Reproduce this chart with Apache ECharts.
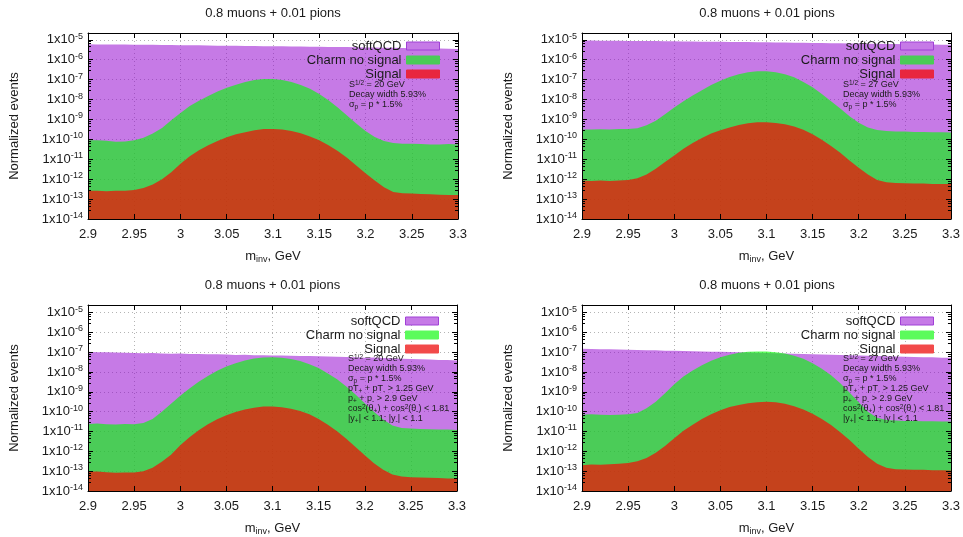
<!DOCTYPE html>
<html><head><meta charset="utf-8">
<script src="https://cdn.jsdelivr.net/npm/echarts@6/dist/echarts.min.js"></script>
<style>html,body{margin:0;padding:0;background:#fff}#c{width:963px;height:537px}</style>
</head><body><div id="c"></div>
<script>
// ---------------- data ----------------
const masses = [2.90,2.91,2.92,2.93,2.94,2.95,2.96,2.97,2.98,2.99,
  3.00,3.01,3.02,3.03,3.04,3.05,3.06,3.07,3.08,3.09,
  3.10,3.11,3.12,3.13,3.14,3.15,3.16,3.17,3.18,3.19,
  3.20,3.21,3.22,3.23,3.24,3.25,3.26,3.27,3.28,3.29,3.30];

const seriesNames = ['softQCD', 'Charm no signal', 'Signal'];
const panelTitle = '0.8 muons + 0.01 pions';
const xTickLabels = ['2.9','2.95','3','3.05','3.1','3.15','3.2','3.25','3.3'];

// Panel 1: S^1/2 = 20 GeV, no cuts
const p1Soft = [6.0e-6,5.9e-6,5.9e-6,5.8e-6,5.8e-6,5.7e-6,5.6e-6,5.6e-6,5.5e-6,5.5e-6,
  5.4e-6,5.3e-6,5.3e-6,5.2e-6,5.1e-6,5.1e-6,5.0e-6,4.9e-6,4.9e-6,4.8e-6,
  4.8e-6,4.7e-6,4.6e-6,4.6e-6,4.5e-6,4.5e-6,4.4e-6,4.3e-6,4.3e-6,4.2e-6,
  4.1e-6,4.1e-6,4.0e-6,4.0e-6,3.9e-6,3.8e-6,3.8e-6,3.7e-6,3.7e-6,3.6e-6,3.5e-6];
const p1Charm = [8.9e-11,8.9e-11,8.5e-11,7.6e-11,7.9e-11,8.9e-11,1.2e-10,1.95e-10,3.7e-10,9.1e-10,
  2.1e-9,4.7e-9,8.7e-9,1.5e-8,2.5e-8,3.9e-8,5.5e-8,7.6e-8,9.5e-8,1.07e-7,
  1.07e-7,9.5e-8,7.6e-8,5.4e-8,3.5e-8,1.9e-8,9.3e-9,4.0e-9,1.6e-9,6.2e-10,
  2.6e-10,1.3e-10,8.3e-11,6.5e-11,6.0e-11,6.0e-11,5.8e-11,5.6e-11,5.6e-11,5.8e-11,5.6e-11];
const p1Signal = [2.65e-13,2.6e-13,2.5e-13,2.65e-13,2.65e-13,2.9e-13,3.6e-13,5.4e-13,1.0e-12,2.2e-12,
  5.9e-12,1.4e-11,2.8e-11,5.0e-11,8.3e-11,1.26e-10,1.8e-10,2.3e-10,2.85e-10,3.3e-10,
  3.3e-10,3.1e-10,2.6e-10,2.0e-10,1.4e-10,8.9e-11,5.0e-11,2.6e-11,1.2e-11,4.9e-12,
  2.0e-12,8.5e-13,3.9e-13,2.3e-13,1.95e-13,1.9e-13,1.8e-13,1.74e-13,1.66e-13,1.6e-13,1.6e-13];

// Panel 2: S^1/2 = 27 GeV, no cuts
const p2Soft = [9.3e-6,9.2e-6,9.1e-6,9.0e-6,8.9e-6,8.8e-6,8.8e-6,8.7e-6,8.6e-6,8.5e-6,
  8.4e-6,8.3e-6,8.2e-6,8.1e-6,8.0e-6,7.9e-6,7.8e-6,7.8e-6,7.7e-6,7.6e-6,
  7.5e-6,7.4e-6,7.3e-6,7.2e-6,7.1e-6,7.0e-6,6.9e-6,6.8e-6,6.7e-6,6.6e-6,
  6.5e-6,6.4e-6,6.3e-6,6.2e-6,6.1e-6,6.0e-6,5.9e-6,5.8e-6,5.8e-6,5.7e-6,5.6e-6];
const p2Charm = [3.1e-10,3.1e-10,3.2e-10,3.1e-10,3.3e-10,3.3e-10,3.6e-10,5.1e-10,8.5e-10,1.8e-9,
  4.0e-9,8.3e-9,1.6e-8,2.95e-8,5.4e-8,8.9e-8,1.35e-7,1.85e-7,2.35e-7,2.6e-7,
  2.6e-7,2.35e-7,1.85e-7,1.3e-7,7.6e-8,4.1e-8,1.9e-8,8.3e-9,3.5e-9,1.45e-9,
  6.9e-10,4.0e-10,2.95e-10,2.6e-10,2.5e-10,2.45e-10,2.35e-10,2.35e-10,2.25e-10,2.25e-10,2.2e-10];
const p2Signal = [8.5e-13,8.2e-13,8.5e-13,8.2e-13,8.5e-13,9.1e-13,1.1e-12,1.7e-12,3.3e-12,7.2e-12,
  1.55e-11,3.4e-11,6.5e-11,1.17e-10,1.95e-10,2.85e-10,4.0e-10,5.3e-10,6.4e-10,7.2e-10,
  7.2e-10,6.7e-10,5.7e-10,4.4e-10,3.0e-10,1.8e-10,9.6e-11,4.6e-11,2.1e-11,8.7e-12,
  3.7e-12,1.7e-12,9.1e-13,7.0e-13,6.5e-13,6.3e-13,6.0e-13,6.0e-13,5.8e-13,5.8e-13,5.8e-13];

// Panel 3: S^1/2 = 20 GeV, with cuts
const p3Soft = [1.05e-7,1.0e-7,9.8e-8,9.6e-8,9.5e-8,9.0e-8,8.8e-8,9.0e-8,8.6e-8,8.4e-8,
  8.5e-8,8.2e-8,8.0e-8,7.8e-8,7.9e-8,7.6e-8,7.3e-8,7.4e-8,7.1e-8,7.0e-8,
  6.8e-8,6.9e-8,6.6e-8,6.4e-8,6.5e-8,6.2e-8,6.0e-8,5.9e-8,5.8e-8,5.5e-8,
  5.3e-8,5.4e-8,5.1e-8,4.9e-8,4.7e-8,4.6e-8,4.4e-8,4.3e-8,4.1e-8,4.0e-8,3.8e-8];
const p3Charm = [2.4e-11,2.5e-11,2.3e-11,2.25e-11,2.4e-11,2.3e-11,2.7e-11,4.3e-11,1.0e-10,2.5e-10,
  6.3e-10,1.47e-9,3.2e-9,6.3e-9,1.17e-8,1.9e-8,2.8e-8,3.8e-8,4.8e-8,5.4e-8,
  5.6e-8,5.2e-8,4.5e-8,3.55e-8,2.5e-8,1.6e-8,8.5e-9,4.3e-9,1.85e-9,7.4e-10,
  2.7e-10,1.0e-10,4.0e-11,2.0e-11,1.5e-11,1.4e-11,1.35e-11,1.3e-11,1.26e-11,1.26e-11,1.2e-11];
const p3Signal = [9.3e-14,9.6e-14,8.9e-14,8.3e-14,8.6e-14,8.6e-14,1.0e-13,1.47e-13,2.95e-13,6.8e-13,
  2.0e-12,5.2e-12,1.17e-11,2.3e-11,4.2e-11,6.6e-11,9.6e-11,1.3e-10,1.6e-10,1.8e-10,
  1.8e-10,1.65e-10,1.4e-10,1.08e-10,7.4e-11,4.3e-11,2.2e-11,1.04e-11,4.3e-12,1.65e-12,
  6.3e-13,2.5e-13,1.17e-13,6.8e-14,5.4e-14,5.0e-14,4.8e-14,4.6e-14,4.5e-14,4.3e-14,4.3e-14];

// Panel 4: S^1/2 = 27 GeV, with cuts
const p4Soft = [1.5e-7,1.46e-7,1.42e-7,1.4e-7,1.35e-7,1.32e-7,1.3e-7,1.26e-7,1.24e-7,1.2e-7,
  1.18e-7,1.15e-7,1.12e-7,1.1e-7,1.06e-7,1.04e-7,1.01e-7,9.8e-8,9.6e-8,9.3e-8,
  9.0e-8,8.8e-8,8.6e-8,8.3e-8,8.1e-8,7.9e-8,7.7e-8,7.5e-8,7.2e-8,7.0e-8,
  6.8e-8,6.6e-8,6.4e-8,6.3e-8,6.1e-8,5.9e-8,5.8e-8,5.6e-8,5.5e-8,5.3e-8,5.2e-8];
const p4Charm = [7.1e-11,7.4e-11,7.1e-11,6.8e-11,7.1e-11,7.4e-11,8.5e-11,1.48e-10,3.2e-10,8.5e-10,
  2.4e-9,5.9e-9,1.2e-8,2.2e-8,3.7e-8,5.6e-8,7.4e-8,9.3e-8,1.04e-7,1.07e-7,
  1.07e-7,1.0e-7,8.5e-8,6.6e-8,4.7e-8,2.8e-8,1.47e-8,6.8e-9,2.7e-9,9.3e-10,
  2.95e-10,1.0e-10,5.0e-11,3.8e-11,3.55e-11,3.4e-11,3.4e-11,3.3e-11,3.3e-11,3.2e-11,3.2e-11];
const p4Signal = [2.0e-13,2.15e-13,2.1e-13,2.25e-13,2.4e-13,2.6e-13,3.2e-13,4.6e-13,8.6e-13,1.85e-12,
  4.6e-12,1.08e-11,2.2e-11,4.3e-11,7.4e-11,1.17e-10,1.7e-10,2.2e-10,2.7e-10,3.0e-10,
  3.2e-10,2.95e-10,2.5e-10,1.9e-10,1.3e-10,7.9e-11,4.3e-11,2.1e-11,9.3e-12,3.7e-12,
  1.35e-12,5.2e-13,2.4e-13,1.47e-13,1.26e-13,1.2e-13,1.17e-13,1.17e-13,1.12e-13,1.12e-13,1.07e-13];

const notes20 = ['{n|S}{sup|1/2}{n| = 20 GeV}', '{n|Decay width 5.93%}', '{n|σ}{sub|p}{n| = p * 1.5%}'];
const notes27 = ['{n|S}{sup|1/2}{n| = 27 GeV}', '{n|Decay width 5.93%}', '{n|σ}{sub|p}{n| = p * 1.5%}'];
const cutNotes = ['{n|pT}{sub|+}{n| + pT}{sub|-}{n| > 1.25 GeV}',
  '{n|p}{sub|+}{n| + p}{sub|-}{n| > 2.9 GeV}',
  '{n|cos}{sup|2}{n|(θ}{sub|+}{n|) + cos}{sup|2}{n|(θ}{sub|-}{n|) < 1.81}',
  '{n||y}{sub|+}{n|| < 1.1; |y}{sub|-}{n|| < 1.1}'];

// ---------------- layout / style ----------------
const FONT = '"Liberation Sans", Arial, Helvetica, sans-serif';
const TXT = '#1a1a1a';
const fillColors = ['rgba(145,0,208,0.52)', 'rgba(0,255,0,0.62)', 'rgba(255,0,0,0.68)'];

const panels = [
  {left: 88, top: 33, width: 370, height: 186, ymax: 2.2e-5, data: [p1Soft, p1Charm, p1Signal],
   notes: notes20, noteX: 349, noteY: 85, legendRight: 518, legendTop: 34, onPurple: true},
  {left: 582, top: 33, width: 370, height: 186, ymax: 2.2e-5, data: [p2Soft, p2Charm, p2Signal],
   notes: notes27, noteX: 843, noteY: 85, legendRight: 24, legendTop: 34, onPurple: true},
  {left: 88, top: 305, width: 369, height: 188, ymax: 2.4e-5, data: [p3Soft, p3Charm, p3Signal],
   notes: notes20.concat(cutNotes), noteX: 348, noteY: 359, legendRight: 519, legendTop: 309, onPurple: false},
  {left: 582, top: 305, width: 370, height: 188, ymax: 2.4e-5, data: [p4Soft, p4Charm, p4Signal],
   notes: notes27.concat(cutNotes), noteX: 843, noteY: 359, legendRight: 24, legendTop: 309, onPurple: false}
];

const grids = [], xAxes = [], yAxes = [], series = [], legends = [], graphics = [];

const yLabelFormatter = v => {
  const e = Math.log10(v);
  if (Math.abs(e - Math.round(e)) > 1e-6) return '';
  return '{b|1x10}{s|' + Math.round(e) + '}';
};
const xLabelFormatter = v => {
  const idx = Math.round((v - 2.9) / 0.05);
  return xTickLabels[idx] !== undefined ? xTickLabels[idx] : '';
};

panels.forEach((p, i) => {
  grids.push({left: p.left, top: p.top, width: p.width, height: p.height, containLabel: false});
  const lineStyle = {color: '#000', width: 1};
  xAxes.push({type: 'value', gridIndex: i, min: 2.9, max: 3.3, interval: 0.05, position: 'bottom', z: 10,
    axisLine: {show: true, onZero: false, lineStyle},
    axisTick: {show: true, inside: true, length: 5, lineStyle},
    axisLabel: {show: true, margin: 9, fontSize: 13, color: TXT, fontFamily: FONT, formatter: xLabelFormatter},
    splitLine: {show: false},
    name: '{m|m}{s|inv}{m|, GeV}', nameLocation: 'middle', nameGap: 29,
    nameTextStyle: {rich: {
      m: {fontSize: 13, lineHeight: 16, color: TXT, fontFamily: FONT},
      s: {fontSize: 9, lineHeight: 9, verticalAlign: 'bottom', color: TXT, fontFamily: FONT}}}});
  xAxes.push({type: 'value', gridIndex: i, min: 2.9, max: 3.3, interval: 0.05, position: 'top', z: 10,
    axisLine: {show: true, onZero: false, lineStyle},
    axisTick: {show: true, inside: true, length: 5, lineStyle},
    axisLabel: {show: false}, splitLine: {show: false}});
  xAxes.push({type: 'value', gridIndex: i, min: 2.9, max: 3.3, interval: 0.05, z: 0,
    axisLine: {show: false}, axisTick: {show: false}, axisLabel: {show: false},
    splitLine: {show: true, lineStyle: {color: '#b4b4b4', type: [1, 3], width: 1}}});

  const yBase = {type: 'log', logBase: 10, gridIndex: i, min: 1e-14, max: p.ymax, splitNumber: 10};
  yAxes.push(Object.assign({}, yBase, {position: 'left', z: 10,
    axisLine: {show: true, onZero: false, lineStyle},
    axisTick: {show: true, inside: true, length: 5, lineStyle},
    minorTick: {show: true, splitNumber: 5, length: 3, lineStyle},
    axisLabel: {show: true, margin: 5, formatter: yLabelFormatter, rich: {
      b: {fontSize: 13, lineHeight: 16, color: TXT, fontFamily: FONT},
      s: {fontSize: 9, lineHeight: 9, verticalAlign: 'top', color: TXT, fontFamily: FONT}}},
    splitLine: {show: false},
    name: 'Normalized events', nameLocation: 'middle', nameGap: 67, nameRotate: 90,
    nameTextStyle: {fontSize: 13, color: TXT, fontFamily: FONT}}));
  yAxes.push(Object.assign({}, yBase, {position: 'right', z: 10,
    axisLine: {show: true, onZero: false, lineStyle},
    axisTick: {show: true, inside: true, length: 5, lineStyle},
    minorTick: {show: true, splitNumber: 5, length: 3, lineStyle},
    axisLabel: {show: false}, splitLine: {show: false}}));
  yAxes.push(Object.assign({}, yBase, {z: 0,
    axisLine: {show: false}, axisTick: {show: false}, axisLabel: {show: false},
    splitLine: {show: true, lineStyle: {color: '#b4b4b4', type: [1, 3], width: 1}}}));

  seriesNames.forEach((name, k) => {
    series.push({
      name, type: 'line', xAxisIndex: 3 * i, yAxisIndex: 3 * i,
      data: masses.map((m, j) => [m, p.data[k][j]]),
      symbol: 'none', showSymbol: false, silent: true,
      color: fillColors[k],
      lineStyle: {width: 0, color: fillColors[k]},
      areaStyle: {color: fillColors[k], opacity: 1, origin: 'start'},
      z: 2 + k, animation: false
    });
  });

  const keyColors = p.onPurple
    ? ['#c67ae7', '#4bcb58', '#e8263f']
    : ['#c67ae7', '#5cfb5c', '#f24a4a'];
  const keyBorders = ['#a040d6', keyColors[1], keyColors[2]];
  legends.push({
    orient: 'vertical', align: 'right', right: p.legendRight, top: p.legendTop,
    itemWidth: 33, itemHeight: 8, itemGap: 0, selectedMode: false, icon: 'rect',
    textStyle: {fontSize: 13, lineHeight: 14, color: TXT, fontFamily: FONT},
    data: seriesNames.map((n, k) => ({name: n, icon: 'rect',
      itemStyle: {color: keyColors[k], borderColor: keyBorders[k], borderWidth: 1, opacity: 1}}))
  });

  graphics.push({type: 'text', x: p.left + p.width / 2, y: p.top - 20, silent: true,
    style: {text: panelTitle, align: 'center', verticalAlign: 'middle', fontSize: 13,
      fontFamily: FONT, fill: TXT}});
  p.notes.forEach((t, j) => {
    graphics.push({type: 'text', x: p.noteX, y: p.noteY + j * 10, silent: true, z: 20,
      style: {text: t, align: 'left', verticalAlign: 'middle', fill: TXT,
        rich: {
          n: {fontSize: 9, lineHeight: 11, fontFamily: FONT, fill: TXT},
          sup: {fontSize: 6.5, lineHeight: 6, verticalAlign: 'top', fontFamily: FONT, fill: TXT},
          sub: {fontSize: 6.5, lineHeight: 6, verticalAlign: 'bottom', fontFamily: FONT, fill: TXT}}}});
  });
});

const chart = echarts.init(document.getElementById('c'), null, {renderer: 'canvas'});
chart.setOption({
  animation: false,
  backgroundColor: '#fff',
  grid: grids, xAxis: xAxes, yAxis: yAxes, series, legend: legends,
  graphic: {elements: graphics}
});
</script></body></html>
